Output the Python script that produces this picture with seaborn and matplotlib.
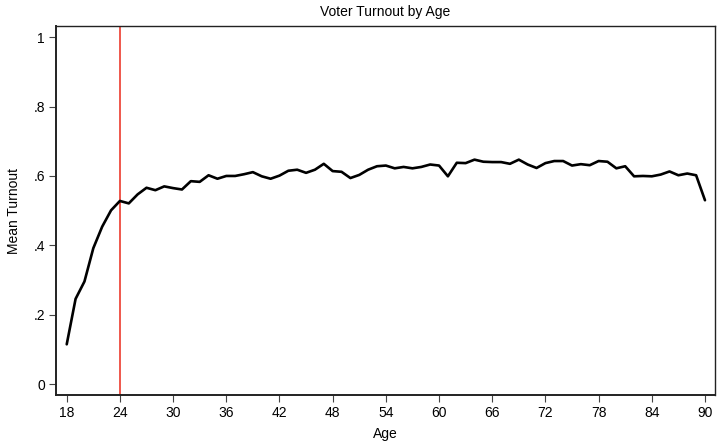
import matplotlib
matplotlib.use("Agg")
import matplotlib.pyplot as plt
import seaborn as sns
import pandas as pd
import numpy as np

ages = list(range(18, 91))
turnout = [
    0.115, 0.246, 0.296, 0.392, 0.454, 0.501, 0.528, 0.521, 0.547, 0.566,
    0.559, 0.570, 0.565, 0.561, 0.585, 0.583, 0.602, 0.592, 0.600, 0.600,
    0.605, 0.611, 0.599, 0.592, 0.601, 0.615, 0.618, 0.609, 0.618, 0.635,
    0.614, 0.612, 0.594, 0.603, 0.618, 0.628, 0.630, 0.622, 0.626, 0.622,
    0.626, 0.633, 0.630, 0.599, 0.638, 0.637, 0.647, 0.641, 0.640, 0.640,
    0.635, 0.647, 0.633, 0.623, 0.637, 0.643, 0.643, 0.630, 0.634, 0.631,
    0.643, 0.641, 0.622, 0.628, 0.599, 0.600, 0.599, 0.604, 0.613, 0.602,
    0.607, 0.602, 0.530,
]
cutoff_age = 24
x_ticks = list(range(18, 91, 6))
y_ticks = [0, 0.2, 0.4, 0.6, 0.8, 1.0]
y_tick_labels = ["0", ".2", ".4", ".6", ".8", "1"]

df = pd.DataFrame({"Age": ages, "Mean Turnout": turnout})

sns.set_theme(style="ticks")
plt.rcParams['font.family'] = ['Liberation Sans', 'DejaVu Sans']
plt.rcParams['text.color'] = 'black'
plt.rcParams['axes.labelcolor'] = 'black'

fig = plt.figure(figsize=(7.17, 4.43), dpi=100)
ax = fig.add_axes([56/717, 48/443, (715-56)/717, (395-26)/443])

sns.lineplot(data=df, x="Age", y="Mean Turnout", ax=ax, color="black", linewidth=1.9)
ax.axvline(cutoff_age, color="#ee4a3e", linewidth=1.3, zorder=1)

ax.set_xlim(16.79, 91.13)
ax.set_ylim(-0.031, 1.032)
ax.set_xticks(x_ticks)
ax.set_yticks(y_ticks)
ax.set_yticklabels(y_tick_labels)
ax.tick_params(axis="both", direction="out", length=5, width=0.8, color="#444444",
               labelsize=10, pad=3, labelcolor="black")
for s in ax.spines.values():
    s.set_color("#222222")
    s.set_linewidth(1.0)
ax.spines["left"].set_linewidth(1.4)
ax.spines["bottom"].set_linewidth(1.4)

ax.set_title("Voter Turnout by Age", fontsize=10, pad=7, color="black")
ax.set_xlabel("Age", fontsize=10, labelpad=5, color="black")
ax.set_ylabel("Mean Turnout", fontsize=10, labelpad=9, color="black")

fig.savefig("out.png", dpi=100)
